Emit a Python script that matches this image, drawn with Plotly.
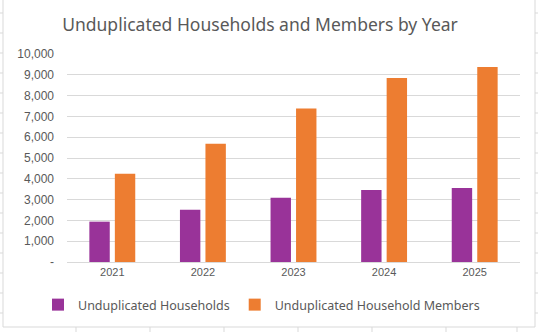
import plotly.graph_objects as go

years = ["2021", "2022", "2023", "2024", "2025"]
households = [1940, 2510, 3090, 3460, 3560]
members = [4240, 5680, 7380, 8850, 9380]
ytick_vals = [0, 1000, 2000, 3000, 4000, 5000, 6000, 7000, 8000, 9000, 10000]
ytick_text = ["-", "1,000", "2,000", "3,000", "4,000", "5,000", "6,000", "7,000", "8,000", "9,000", "10,000"]

W, H = 538, 332
L, R, T, B = 67, 18, 54, 70
PW, PH = W - L - R, H - T - B


def px(x):
    return (x - L) / PW


def py(y):
    return (H - B - y) / PH


fig = go.Figure()
fig.add_trace(go.Bar(x=years, y=households, name="Unduplicated Households",
                     marker_color="#993399", marker_line_width=0))
fig.add_trace(go.Bar(x=years, y=members, name="Unduplicated Household Members",
                     marker_color="#ED7D31", marker_line_width=0))

shapes = []
grid = "#D9D9D9"
# chart border
shapes.append(dict(type="rect", xref="paper", yref="paper",
                   x0=px(3), x1=px(535), y0=py(327), y1=py(-2),
                   line=dict(color=grid, width=1), layer="below"))
# spreadsheet cell lines outside the chart
for yy in [13, 33, 53, 73, 93, 113, 133, 153, 173, 193, 213, 233, 253, 273, 293, 313]:
    shapes.append(dict(type="line", xref="paper", yref="paper",
                       x0=px(0), x1=px(3), y0=py(yy), y1=py(yy),
                       line=dict(color=grid, width=1), layer="below"))
    shapes.append(dict(type="line", xref="paper", yref="paper",
                       x0=px(535), x1=px(538), y0=py(yy), y1=py(yy),
                       line=dict(color=grid, width=1), layer="below"))
for xx in [76, 150, 224, 298, 372, 446, 517]:
    shapes.append(dict(type="line", xref="paper", yref="paper",
                       x0=px(xx), x1=px(xx), y0=py(327), y1=py(332),
                       line=dict(color=grid, width=1), layer="below"))

fig.update_layout(
    width=W, height=H,
    margin=dict(l=L, r=R, t=T, b=B),
    paper_bgcolor="white", plot_bgcolor="white",
    barmode="group", bargap=0.437, bargroupgap=0.2,
    title=dict(text="Unduplicated Households and Members by Year",
               xref="container", x=260 / W, xanchor="center",
               yref="container", y=1 - 25 / H, yanchor="middle",
               font=dict(family="Noto Sans", size=17.5, color="#595959")),
    xaxis=dict(showgrid=False, showline=True, linecolor=grid, linewidth=1,
               ticks="", tickfont=dict(family="Liberation Sans", size=11, color="#595959")),
    yaxis=dict(range=[0, 10000], tickvals=ytick_vals, ticktext=ytick_text,
               showgrid=True, gridcolor=grid, gridwidth=1, zeroline=False,
               showline=False, ticks="", ticklabelstandoff=12,
               tickfont=dict(family="Liberation Sans", size=12, color="#595959")),
    legend=dict(orientation="h", x=px(38), xanchor="left", y=py(305), yanchor="middle",
                font=dict(family="Noto Sans", size=12.5, color="#595959"),
                itemwidth=30, bgcolor="rgba(0,0,0,0)"),
    shapes=shapes,
)

fig.write_html("out.html")
